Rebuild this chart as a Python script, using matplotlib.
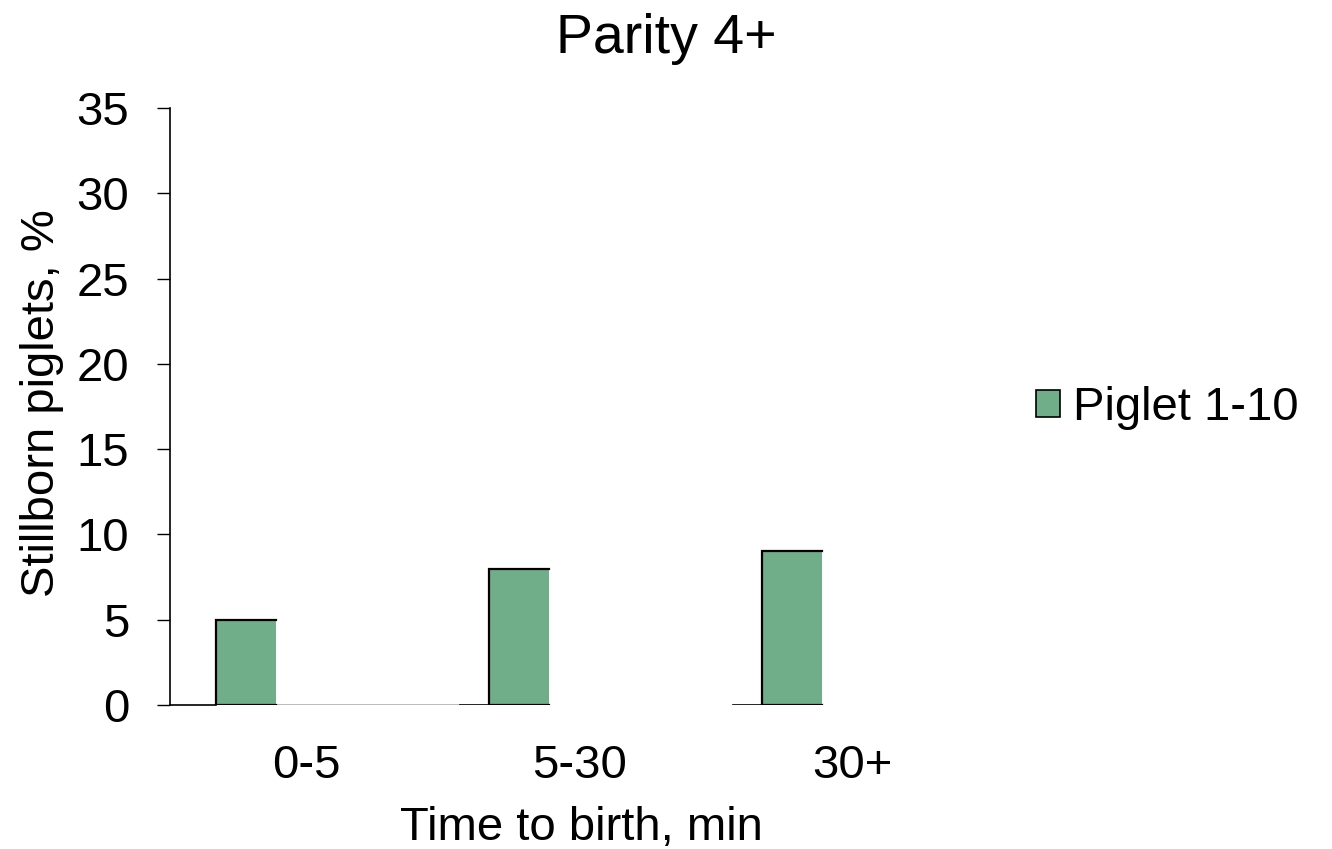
import matplotlib
matplotlib.use("Agg")
import matplotlib.pyplot as plt
import matplotlib.patches as patches
import numpy as np

# dati
categories = ["0-5", "5-30", "30+"]
series_name = "Piglet 1-10"
stillborn_pct = [5, 8, 9]
y_ticks = [0, 5, 10, 15, 20, 25, 30, 35]

BAR_COLOR = "#70ae89"
FONT = "Liberation Sans"
FS = 34

plt.rcParams['font.family'] = [FONT, 'DejaVu Sans']

fig = plt.figure(figsize=(13.32, 8.49), dpi=100)
ax = fig.add_axes([170 / 1332, 1 - 705 / 849, (989 - 170) / 1332, (705 - 108) / 849])

# layout tipo Excel: 3 serie per categoria, gap width 150%
bar_w = 1 / 4.5
offset = 0.75 / 4.5
x = np.arange(len(categories))
lefts = x + offset

ax.bar(lefts, stillborn_pct, width=bar_w, align='edge', color=BAR_COLOR,
       linewidth=0, zorder=2)
# contorno sinistra / alto / basso (il lato destro non si vede)
for l, v in zip(lefts, stillborn_pct):
    ax.plot([l + bar_w, l, l, l + bar_w], [v, v, 0, 0], color='black',
            lw=1.6, solid_joinstyle='miter', zorder=3)

# linea dell'asse x a tratti
ax.plot([0, lefts[0]], [0, 0], color='black', lw=1.2, zorder=1, clip_on=False)
ax.plot([lefts[0] + bar_w, 1.062], [0, 0], color='#b0b0b0', lw=1.2, zorder=1)
for l in lefts[1:]:
    ax.plot([np.floor(l) + 0.062, l], [0, 0], color='black', lw=1.2, zorder=1)

ax.set_xlim(0, 3)
ax.set_ylim(0, 35)
ax.set_yticks(y_ticks)
ax.set_yticklabels([str(t) for t in y_ticks], fontsize=FS)
ax.set_xticks(x + 0.5)
ax.set_xticklabels(categories, fontsize=FS)
ax.tick_params(axis='x', length=0, pad=28)
ax.tick_params(axis='y', length=9.4, width=1, direction='out', pad=20)

for s in ['top', 'right', 'bottom']:
    ax.spines[s].set_visible(False)
ax.spines['left'].set_linewidth(1.2)

fig.text(0.5, 1 - 39 / 849, "Parity 4+", ha='center', va='center', fontsize=40)
fig.text(581 / 1332, 1 - 828 / 849, "Time to birth, min", ha='center', va='center',
         fontsize=FS)
fig.text(42 / 1332, 1 - 403 / 849, "Stillborn piglets, %", ha='center', va='center',
         rotation=90, fontsize=FS)

handle = patches.Patch(facecolor=BAR_COLOR, edgecolor='black', linewidth=1.2,
                       label=series_name)
fig.legend(handles=[handle], loc='center left',
           bbox_to_anchor=(1036 / 1332, 1 - 408 / 849), frameon=False,
           fontsize=FS, handlelength=0.5, handleheight=0.5, handletextpad=0.28,
           borderpad=0, borderaxespad=0)

fig.savefig("out.png", dpi=100, facecolor='white')
